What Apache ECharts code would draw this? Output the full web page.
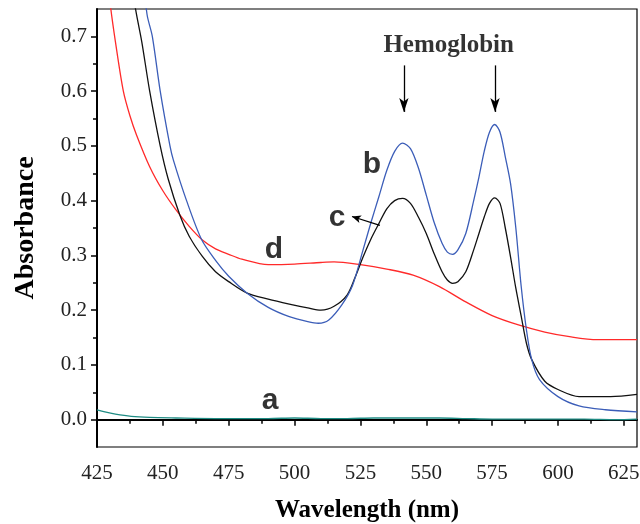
<!DOCTYPE html>
<html>
<head>
<meta charset="utf-8">
<script src="https://cdn.jsdelivr.net/npm/echarts@6/dist/echarts.min.js"></script>
<style>
  html, body { margin: 0; padding: 0; background: #fff; }
  #chart { width: 640px; height: 524px; }
</style>
</head>
<body>
<div id="chart"></div>
<script>
  // tick values
  var xTicks = [425, 450, 475, 500, 525, 550, 575, 600, 625]
  var xMinor = [437.5, 462.5, 487.5, 512.5, 537.5, 562.5, 587.5, 612.5]
  var yTicks = [0, 0.1, 0.2, 0.3, 0.4, 0.5, 0.6, 0.7]
  var yMinor = [0.05, 0.15, 0.25, 0.35, 0.45, 0.55, 0.65]

  // curve a (teal)
  var aWave = [425, 428, 432, 438, 445, 455, 470, 480, 490, 500, 510, 520, 530, 540, 555, 565, 575, 590, 610, 622, 630]
  var aAbs  = [0.018, 0.014, 0.010, 0.006, 0.004, 0.003, 0.002, 0.002, 0.002, 0.003, 0.002, 0.002, 0.003, 0.003, 0.003, 0.002, 0.001, 0.001, 0.001, 0.000, 0.001]

  // curve b (blue)
  var bWave = [440, 444, 446, 449, 452.7, 454, 459, 464.7, 470, 475, 482, 490, 498, 505, 509, 513, 518, 522, 526, 529, 532, 535, 538, 541, 544, 547, 550, 553, 556, 558, 560, 562, 565, 568, 570, 572, 574, 576, 578, 580, 582, 584, 586, 588, 590, 593, 600, 608, 618, 630]
  var bAbs  = [0.90, 0.74, 0.70, 0.60, 0.50, 0.474, 0.40, 0.329, 0.291, 0.262, 0.231, 0.205, 0.188, 0.179, 0.176, 0.182, 0.21, 0.245, 0.31, 0.36, 0.407, 0.455, 0.49, 0.505, 0.495, 0.46, 0.41, 0.36, 0.322, 0.306, 0.302, 0.31, 0.34, 0.40, 0.443, 0.49, 0.525, 0.539, 0.525, 0.48, 0.431, 0.35, 0.245, 0.165, 0.11, 0.073, 0.042, 0.025, 0.018, 0.014]

  // curve c (black)
  var cWave = [432, 435, 440, 442, 445, 449, 452, 456.5, 460, 465, 470, 475, 482, 490, 498, 505, 510, 515, 520, 523, 526, 529, 532, 535, 538, 541, 544, 547, 550, 553, 556, 558, 560, 562, 565, 568, 570, 572, 574, 576, 578, 580, 582, 584, 586, 588, 590, 595, 600, 608, 620, 630]
  var cAbs  = [1.0, 0.88, 0.74, 0.69, 0.60, 0.50, 0.44, 0.373, 0.335, 0.298, 0.27, 0.252, 0.231, 0.22, 0.211, 0.204, 0.200, 0.207, 0.228, 0.26, 0.297, 0.33, 0.358, 0.385, 0.40, 0.404, 0.395, 0.37, 0.34, 0.303, 0.27, 0.255, 0.249, 0.252, 0.27, 0.31, 0.34, 0.37, 0.395, 0.405, 0.395, 0.35, 0.297, 0.24, 0.19, 0.14, 0.11, 0.07, 0.055, 0.042, 0.042, 0.046]

  // curve d (red)
  var dWave = [425, 430, 432, 435, 437.5, 440, 445, 450, 455, 460, 465, 470, 475, 480, 490, 500, 510, 515, 525, 535, 545, 555, 565, 575, 585, 595, 605, 615, 630]
  var dAbs  = [0.98, 0.76, 0.69, 0.60, 0.555, 0.52, 0.462, 0.418, 0.383, 0.353, 0.328, 0.312, 0.302, 0.293, 0.283, 0.284, 0.287, 0.288, 0.283, 0.275, 0.264, 0.243, 0.215, 0.19, 0.173, 0.16, 0.151, 0.146, 0.146]

  // text labels placed in data coordinates
  var curveLabels = [
    { name: 'a', value: [490.7, 0.035] },
    { name: 'b', value: [529.4, 0.466] },
    { name: 'c', value: [516.1, 0.368] },
    { name: 'd', value: [492.2, 0.310] }
  ]
  var titleLabel = [{ name: 'Hemoglobin', value: [558.5, 0.684] }]

  function zip(xs, ys) {
    var out = []
    for (var i = 0; i < xs.length; i++) {
      out.push([xs[i], ys[i]])
    }
    return out
  }

  function curve(name, data, color) {
    return {
      name: name,
      type: 'line',
      data: data,
      showSymbol: false,
      smooth: 0.3,
      lineStyle: { color: color, width: 1.3 },
      silent: true,
      z: 3
    }
  }

  var mychar = echarts.init(document.getElementById('chart'))
  var option = {
    animation: false,
    grid: {
      left: 97, right: 3, top: 9, bottom: 77,
      outerBoundsMode: 'none',
      show: true,
      borderColor: '#000',
      borderWidth: 1.2
    },
    xAxis: [
      {
        type: 'value',
        min: 425,
        max: 630,
        axisLine: { lineStyle: { color: '#000', width: 2 } },
        axisTick: { customValues: xTicks, length: 6, lineStyle: { color: '#000', width: 1.5 } },
        axisLabel: {
          customValues: xTicks,
          margin: 16,
          color: '#222',
          fontFamily: 'Liberation Serif',
          fontSize: 21
        },
        splitLine: { show: false },
        name: 'Wavelength (nm)',
        nameLocation: 'middle',
        nameGap: 51,
        nameTextStyle: {
          fontFamily: 'Liberation Serif',
          fontWeight: 'bold',
          fontSize: 25,
          color: '#000'
        }
      },
      {
        type: 'value',
        min: 425,
        max: 630,
        position: 'bottom',
        axisLine: { show: false },
        axisTick: { customValues: xMinor, length: 4, lineStyle: { color: '#000', width: 1.5 } },
        axisLabel: { show: false },
        splitLine: { show: false }
      }
    ],
    yAxis: [
      {
        type: 'value',
        min: -0.05,
        max: 0.75,
        axisLine: { show: true, lineStyle: { color: '#000', width: 2 } },
        axisTick: { show: true, customValues: yTicks, length: 6, lineStyle: { color: '#000', width: 1.5 } },
        axisLabel: {
          customValues: yTicks,
          margin: 10,
          color: '#222',
          fontFamily: 'Liberation Serif',
          fontSize: 21,
          formatter: function (v) { return v.toFixed(1) }
        },
        splitLine: { show: false },
        name: 'Absorbance',
        nameLocation: 'middle',
        nameGap: 57,
        nameTextStyle: {
          fontFamily: 'Liberation Serif',
          fontWeight: 'bold',
          fontSize: 28,
          color: '#000'
        }
      },
      {
        type: 'value',
        min: -0.05,
        max: 0.75,
        position: 'left',
        axisLine: { show: false },
        axisTick: { show: true, customValues: yMinor, length: 4, lineStyle: { color: '#000', width: 1.5 } },
        axisLabel: { show: false },
        splitLine: { show: false }
      }
    ],
    series: [
      curve('a', zip(aWave, aAbs), '#1f8c84'),
      curve('d', zip(dWave, dAbs), '#ff2a2a'),
      curve('c', zip(cWave, cAbs), '#111111'),
      curve('b', zip(bWave, bAbs), '#3b5db8'),
      {
        type: 'scatter',
        data: curveLabels,
        symbolSize: 0,
        silent: true,
        z: 5,
        label: {
          show: true,
          position: 'inside',
          formatter: '{b}',
          fontFamily: 'Liberation Sans',
          fontWeight: 'bold',
          fontSize: 30,
          color: '#000'
        },
        markLine: {
          silent: true,
          animation: false,
          label: { show: false },
          lineStyle: { color: '#000', width: 1.3, type: 'solid' },
          symbol: ['none', 'arrow'],
          symbolSize: [7, 14],
          data: [
            [{ coord: [541.5, 0.647] }, { coord: [541.5, 0.562] }],
            [{ coord: [576.1, 0.647] }, { coord: [576.1, 0.562] }],
            [{ coord: [532.4, 0.355] }, { coord: [521.8, 0.371], symbolSize: [6, 9] }]
          ]
        }
      },
      {
        type: 'scatter',
        data: titleLabel,
        symbolSize: 0,
        silent: true,
        z: 5,
        label: {
          show: true,
          position: 'inside',
          formatter: '{b}',
          fontFamily: 'Liberation Serif',
          fontWeight: 'bold',
          fontSize: 25,
          color: '#000'
        }
      }
    ]
  }
  mychar.setOption(option)
</script>
</body>
</html>
